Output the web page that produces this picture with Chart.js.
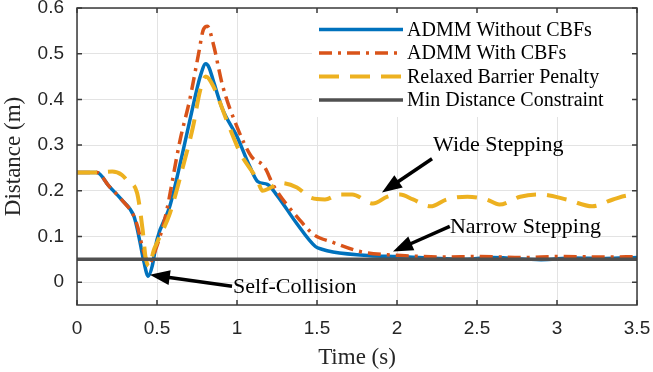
<!DOCTYPE html>
<html>
<head>
<meta charset="utf-8">
<script src="https://cdn.jsdelivr.net/npm/chart.js@4.4.1/dist/chart.umd.min.js"></script>
<style>
    html, body { margin: 0; padding: 0; background: #fff; }
    #wrap { width: 653px; height: 372px; position: relative; }
</style>
</head>
<body>
<div id="wrap"><canvas id="chart"></canvas></div>
<script>
const xTicks = [0, 0.5, 1, 1.5, 2, 2.5, 3, 3.5]
const yTicks = [0, 0.1, 0.2, 0.3, 0.4, 0.5, 0.6]

const seriesNames = ['ADMM Without CBFs', 'ADMM With CBFs', 'Relaxed Barrier Penalty', 'Min Distance Constraint']

const timeNoCbf = [0, 0.125, 0.2, 0.28, 0.355, 0.373, 0.394, 0.418, 0.445, 0.47, 0.5, 0.58, 0.66, 0.725, 0.77, 0.805, 0.825, 0.85, 0.91, 1.0, 1.08, 1.13, 1.19, 1.25, 1.37, 1.49, 1.53, 1.6, 1.83, 2.0, 2.2, 2.4, 2.6, 2.9, 3.1, 3.3, 3.5]
const distNoCbf = [0.24, 0.24, 0.21, 0.18, 0.145, 0.122, 0.087, 0.045, 0.013, 0.035, 0.093, 0.166, 0.283, 0.385, 0.45, 0.478, 0.47, 0.443, 0.378, 0.319, 0.253, 0.22, 0.214, 0.19, 0.13, 0.078, 0.072, 0.066, 0.058, 0.056, 0.053, 0.05, 0.054, 0.049, 0.053, 0.052, 0.054]

const timeCbf = [0, 0.125, 0.2, 0.28, 0.355, 0.38, 0.41, 0.45, 0.49, 0.55, 0.645, 0.705, 0.76, 0.79, 0.815, 0.85, 0.91, 1.0, 1.09, 1.17, 1.23, 1.39, 1.48, 1.6, 1.77, 1.94, 2.1, 2.3, 2.5, 2.8, 3.0, 3.3, 3.5]
const distCbf = [0.24, 0.24, 0.21, 0.18, 0.145, 0.12, 0.075, 0.04, 0.07, 0.14, 0.312, 0.4, 0.5, 0.553, 0.56, 0.524, 0.43, 0.34, 0.275, 0.253, 0.21, 0.137, 0.104, 0.087, 0.067, 0.06, 0.057, 0.055, 0.056, 0.054, 0.056, 0.055, 0.056]

const timeRelaxed = [0, 0.125, 0.22, 0.28, 0.32, 0.375, 0.41, 0.428, 0.45, 0.48, 0.505, 0.58, 0.66, 0.725, 0.77, 0.805, 0.85, 0.94, 1.02, 1.125, 1.16, 1.2, 1.27, 1.375, 1.46, 1.55, 1.64, 1.72, 1.85, 1.94, 2.02, 2.1, 2.21, 2.31, 2.44, 2.56, 2.64, 2.77, 2.89, 3.06, 3.22, 3.35, 3.46, 3.5]
const distRelaxed = [0.24, 0.24, 0.242, 0.235, 0.22, 0.196, 0.115, 0.056, 0.035, 0.07, 0.09, 0.15, 0.25, 0.34, 0.42, 0.45, 0.43, 0.35, 0.283, 0.225, 0.2, 0.205, 0.217, 0.207, 0.185, 0.181, 0.192, 0.192, 0.172, 0.187, 0.192, 0.181, 0.166, 0.181, 0.187, 0.181, 0.17, 0.187, 0.192, 0.181, 0.166, 0.181, 0.19, 0.19]

const timeLimit = [0, 3.5]
const distLimit = [0.05, 0.05]

// arrows: text anchor and arrow tail/tip, all in data units
const notes = [
    { text: 'Self-Collision', at: [0.975, -0.01], from: [0.969, -0.009], to: [0.455, 0.016] },
    { text: 'Wide Stepping', at: [2.225, 0.299], from: [2.219, 0.27], to: [1.906, 0.196] },
    { text: 'Narrow Stepping', at: [2.331, 0.12], from: [2.33, 0.122], to: [1.975, 0.067] },
]

const points = (xs, ys) => xs.map((x, i) => ({ x, y: ys[i] }))

const serif = 'Liberation Serif, Times New Roman, serif'
const sans = 'Liberation Sans, Arial, sans-serif'
const ink = '#262626'

const styles = [
    { borderColor: '#0072BD', borderWidth: 3.5, borderDash: [], order: 4 },
    { borderColor: '#D95319', borderWidth: 3.5, borderDash: [13, 6, 3, 6], order: 3 },
    { borderColor: '#EDB120', borderWidth: 4, borderDash: [20, 11], order: 2 },
    { borderColor: '#505050', borderWidth: 3.5, borderDash: [], order: 1 },
]

const allData = [
    points(timeNoCbf, distNoCbf),
    points(timeCbf, distCbf),
    points(timeRelaxed, distRelaxed),
    points(timeLimit, distLimit),
]

const datasets = allData.map((data, i) => ({
    label: seriesNames[i],
    data,
    ...styles[i],
    pointRadius: 0,
    fill: false,
    cubicInterpolationMode: 'monotone',
}))

function drawArrow(ctx, x1, y1, x2, y2) {
    const ang = Math.atan2(y2 - y1, x2 - x1)
    const hl = 20, hw = 7.5
    const c = Math.cos(ang), s = Math.sin(ang)
    const bx = x2 - hl * c, by = y2 - hl * s

    ctx.beginPath()
    ctx.moveTo(x1, y1)
    ctx.lineTo(bx + c * 2, by + s * 2)
    ctx.stroke()

    ctx.beginPath()
    ctx.moveTo(x2, y2)
    ctx.lineTo(bx + hw * s, by - hw * c)
    ctx.lineTo(bx - hw * s, by + hw * c)
    ctx.closePath()
    ctx.fill()
}

const matlabFrame = {
    id: 'matlabFrame',
    afterDatasetsDraw(chart) {
        const { ctx, chartArea: a, scales: { x, y } } = chart

        ctx.save()

        // legend on white box
        const lx = 312, lb = 117
        ctx.fillStyle = '#ffffff'
        ctx.fillRect(lx, a.top, a.right - lx, lb - a.top)

        const rows = [29.5, 53, 76.5, 100]
        chart.data.datasets.forEach((ds, i) => {
            ctx.strokeStyle = ds.borderColor
            ctx.lineWidth = ds.borderWidth
            ctx.setLineDash(ds.borderDash || [])
            ctx.beginPath()
            ctx.moveTo(319, rows[i])
            ctx.lineTo(403, rows[i])
            ctx.stroke()

            ctx.setLineDash([])
            ctx.fillStyle = '#000'
            ctx.font = `20px ${serif}`
            ctx.textBaseline = 'middle'
            ctx.textAlign = 'left'
            ctx.fillText(ds.label, 407, rows[i] + 1)
        })

        // annotations
        ctx.strokeStyle = '#000'
        ctx.fillStyle = '#000'
        ctx.lineWidth = 3.5
        ctx.lineCap = 'butt'
        ctx.font = `22px ${serif}`
        ctx.textBaseline = 'middle'
        for (const n of notes) {
            drawArrow(ctx,
                x.getPixelForValue(n.from[0]), y.getPixelForValue(n.from[1]),
                x.getPixelForValue(n.to[0]), y.getPixelForValue(n.to[1]))
            ctx.fillText(n.text, x.getPixelForValue(n.at[0]), y.getPixelForValue(n.at[1]))
        }

        // box and inward ticks
        ctx.strokeStyle = '#3a3a3a'
        ctx.lineWidth = 1.5
        ctx.strokeRect(a.left, a.top, a.right - a.left, a.bottom - a.top)

        ctx.beginPath()
        for (const v of xTicks) {
            const px = x.getPixelForValue(v)
            ctx.moveTo(px, a.bottom); ctx.lineTo(px, a.bottom - 5)
            ctx.moveTo(px, a.top); ctx.lineTo(px, a.top + 5)
        }
        for (const v of yTicks) {
            const py = y.getPixelForValue(v)
            ctx.moveTo(a.left, py); ctx.lineTo(a.left + 5, py)
            ctx.moveTo(a.right, py); ctx.lineTo(a.right - 5, py)
        }
        ctx.stroke()

        ctx.restore()
    }
}

new Chart(document.getElementById('chart'), {
    type: 'line',
    data: { datasets },
    options: {
        responsive: true,
        maintainAspectRatio: false,
        animation: false,
        layout: { padding: { top: 8, right: 16, left: 0, bottom: 0 } },
        plugins: { legend: false, tooltip: false, title: false },
        scales: {
            x: {
                type: 'linear',
                min: 0,
                max: 3.5,
                afterBuildTicks: s => { s.ticks = xTicks.map(value => ({ value })) },
                afterFit: s => { s.height = 67; s.paddingLeft = 0; s.paddingRight = 0 },
                ticks: {
                    font: { family: sans, size: 19 },
                    color: ink,
                    padding: 12,
                    maxRotation: 0,
                    autoSkip: false,
                    callback: v => String(v),
                },
                grid: { color: '#e3e3e3', drawTicks: false, lineWidth: 1 },
                border: { display: false },
                title: {
                    display: true,
                    text: 'Time (s)',
                    font: { family: serif, size: 23 },
                    color: ink,
                    padding: { top: 0, bottom: 0 },
                },
            },
            y: {
                min: -0.05,
                max: 0.6,
                afterBuildTicks: s => { s.ticks = yTicks.map(value => ({ value })) },
                afterFit: s => { s.width = 77; s.paddingTop = 0; s.paddingBottom = 0 },
                ticks: {
                    font: { family: sans, size: 19 },
                    color: ink,
                    padding: 13,
                    callback: v => (v === 0 ? '0' : v.toFixed(1)),
                },
                grid: { color: '#e3e3e3', drawTicks: false, lineWidth: 1 },
                border: { display: false },
                title: {
                    display: true,
                    text: 'Distance (m)',
                    font: { family: serif, size: 23 },
                    color: ink,
                    padding: { top: 0, bottom: 0 },
                },
            },
        },
    },
    plugins: [matlabFrame],
})
</script>
</body>
</html>
